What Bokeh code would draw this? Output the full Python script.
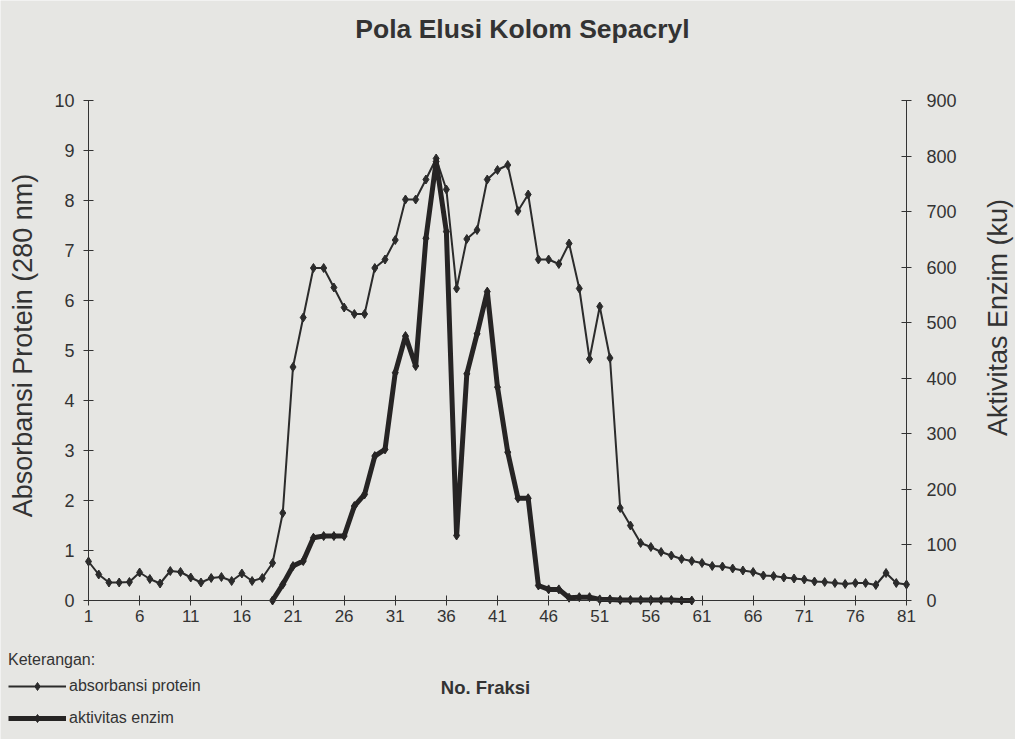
import math
from bokeh.plotting import figure
from bokeh.models import (Range1d, LinearAxis, FixedTicker, Legend, LegendItem, Label)
from bokeh.embed import file_html
from bokeh.resources import INLINE

# ---- data ----
fraksi_protein = list(range(1, 82))
absorbansi_protein = [0.78, 0.52, 0.36, 0.36, 0.37, 0.56, 0.43, 0.34, 0.59, 0.57,
                      0.46, 0.36, 0.45, 0.47, 0.39, 0.54, 0.39, 0.45, 0.75, 1.75,
                      4.67, 5.66, 6.65, 6.65, 6.26, 5.86, 5.73, 5.73, 6.65, 6.82,
                      7.21, 8.02, 8.02, 8.42, 8.84, 8.22, 6.24, 7.23, 7.41, 8.42,
                      8.61, 8.71, 7.79, 8.12, 6.82, 6.82, 6.73, 7.14, 6.24, 4.83,
                      5.88, 4.85, 1.85, 1.50, 1.15, 1.07, 0.97, 0.90, 0.83, 0.79,
                      0.75, 0.69, 0.68, 0.64, 0.60, 0.57, 0.50, 0.49, 0.46, 0.44,
                      0.42, 0.38, 0.37, 0.35, 0.33, 0.35, 0.35, 0.31, 0.55, 0.35,
                      0.32]
fraksi_enzim = list(range(19, 61))
aktivitas_enzim = [0, 29, 62, 71, 113, 116, 116, 116, 170, 191,
                   260, 272, 410, 476, 422, 652, 790, 664, 117, 408,
                   480, 556, 384, 267, 184, 184, 27, 20, 20, 5,
                   6, 6, 2, 2, 1, 1, 1, 1, 1, 1,
                   0, 0]
x_ticks = list(range(1, 82, 5))
y_ticks_left = list(range(0, 11))
y_ticks_right = list(range(0, 901, 100))
x_min, x_max = 1, 81
y_max_left, y_max_right = 10, 900

# ---- layout (pixels) ----
W, H = 1015, 739
FX0, FX1 = 88, 906      # pixel of x_min / x_max
FY0, FY1 = 600, 100     # pixel of y=0 / y=max
ppx = (FX1 - FX0) / (x_max - x_min)
ppy = (FY0 - FY1) / y_max_left

def dx(px):
    return x_min + (px - FX0) / ppx

def dy(py):
    return (FY0 - py) / ppy

BG = "#e6e6e3"
INK = "#333333"
FONT = "Liberation Sans"

scale_r = y_max_right / y_max_left
p = figure(width=W, height=H, output_backend="svg", toolbar_location=None,
           x_range=Range1d(dx(0), dx(W)), y_range=Range1d(dy(H), dy(0)),
           x_axis_type=None, y_axis_type=None, min_border=0,
           background_fill_color=BG, border_fill_color=BG, outline_line_color=None)
p.extra_y_ranges = {"enz": Range1d(dy(H) * scale_r, dy(0) * scale_r)}

def style_axis(ax, size, standoff):
    ax.axis_line_color = INK
    ax.major_tick_line_color = INK
    ax.major_tick_in = 5
    ax.major_tick_out = 5
    ax.minor_tick_line_color = None
    ax.major_label_text_font = FONT
    ax.major_label_text_font_size = size
    ax.major_label_text_color = INK
    ax.major_label_standoff = standoff

xa = LinearAxis(fixed_location=0, bounds=(x_min, x_max), ticker=FixedTicker(ticks=x_ticks))
style_axis(xa, "17px", 4)
p.add_layout(xa, "below")

ya = LinearAxis(fixed_location=x_min, bounds=(0, y_max_left),
                ticker=FixedTicker(ticks=y_ticks_left))
style_axis(ya, "18px", 9)
p.add_layout(ya, "left")

ra = LinearAxis(y_range_name="enz", fixed_location=x_max, bounds=(0, y_max_right),
                ticker=FixedTicker(ticks=y_ticks_right))
style_axis(ra, "18px", 15)
p.add_layout(ra, "right")

l1 = p.line(fraksi_protein, absorbansi_protein, line_color="#2b2b2b", line_width=2)
m1 = p.scatter(fraksi_protein, absorbansi_protein, marker="diamond", size=9,
               fill_color="#2b2b2b", line_color="#2b2b2b")
l2 = p.line(fraksi_enzim, aktivitas_enzim, y_range_name="enz",
            line_color="#262424", line_width=5)
m2 = p.scatter(fraksi_enzim, aktivitas_enzim, y_range_name="enz", marker="diamond",
               size=9, fill_color="#262424", line_color="#262424")

def add_text(text, px, py, size, bold=False, angle=0.0):
    p.add_layout(Label(x=dx(px), y=dy(py), text=text, text_font=FONT,
                       text_font_size=size, text_color=INK, angle=angle,
                       text_font_style="bold" if bold else "normal",
                       text_align="center", text_baseline="middle"))

add_text("Pola Elusi Kolom Sepacryl", 522, 28, "26.5px", bold=True)
add_text("Absorbansi Protein (280 nm)", 22, 345, "27px", angle=math.pi / 2)
add_text("Aktivitas Enzim (ku)", 997, 317, "27px", angle=math.pi / 2)
add_text("No. Fraksi", 485, 687, "18.5px", bold=True)

legend = Legend(items=[LegendItem(label="absorbansi protein", renderers=[l1, m1]),
                       LegendItem(label="aktivitas enzim", renderers=[l2, m2])],
                location=(8, 11), title="Keterangan:", orientation="vertical")
legend.title_text_font = FONT
legend.title_text_font_size = "16px"
legend.title_text_font_style = "normal"
legend.title_text_color = INK
legend.title_standoff = 7
legend.label_text_font = FONT
legend.label_text_font_size = "16px"
legend.label_text_color = INK
legend.glyph_width = 58
legend.glyph_height = 20
legend.label_height = 20
legend.label_standoff = 3
legend.spacing = 12
legend.padding = 0
legend.margin = 0
legend.border_line_color = None
legend.background_fill_alpha = 0
p.add_layout(legend)

open("out.html", "w").write(file_html(p, INLINE))
